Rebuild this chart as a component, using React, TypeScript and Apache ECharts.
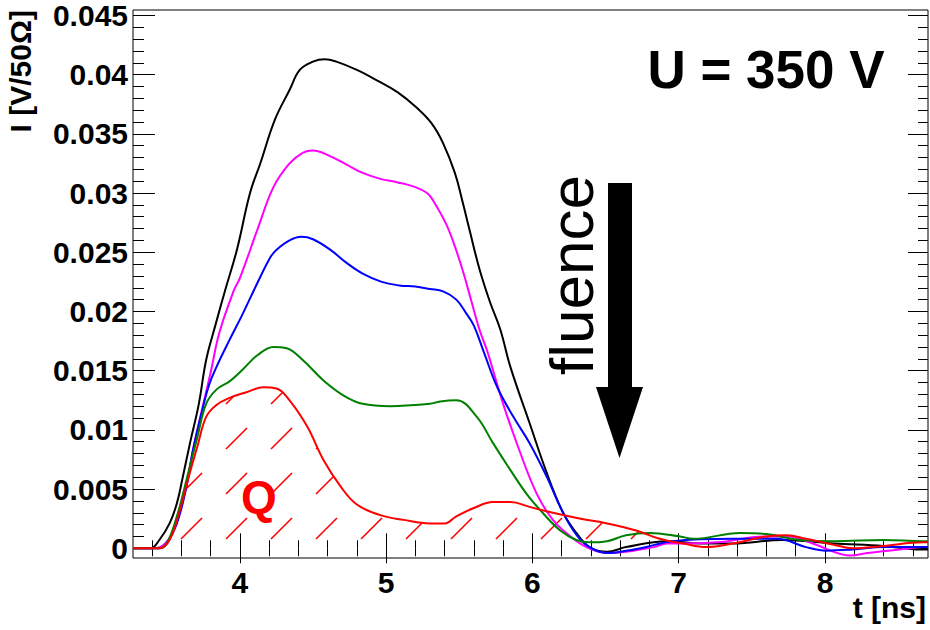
import React, { useEffect, useRef } from "react";
import * as echarts from "echarts";

// ---- data ----
const tBlack = [3.27, 3.39, 3.45, 3.52, 3.57, 3.61, 3.66, 3.72, 3.77, 3.83, 3.9, 3.98, 4.07, 4.14, 4.24, 4.34, 4.41, 4.5, 4.58, 4.66, 4.8, 4.94, 5.08, 5.21, 5.31, 5.39, 5.47, 5.52, 5.57, 5.64, 5.71, 5.78, 5.85, 5.98, 6.1, 6.21, 6.3, 6.39, 6.51, 6.64, 6.92, 7.15, 7.37, 7.71, 8.06, 8.4, 8.65, 8.704];
const iBlack = [0, 0, 0.0007, 0.0021, 0.0038, 0.006, 0.0089, 0.0122, 0.0159, 0.0187, 0.0218, 0.0252, 0.03, 0.0325, 0.0362, 0.0387, 0.0404, 0.0411, 0.0413, 0.0411, 0.0404, 0.0395, 0.0385, 0.0372, 0.0359, 0.0342, 0.0317, 0.0294, 0.0269, 0.0235, 0.0208, 0.0185, 0.0153, 0.0106, 0.0063, 0.003, 0.0013, 0.0001, -0.0003, 0.0001, 0.0006, 0.0004, 0.0004, 0.0007, 0.0004, 0.0002, -0.0001, -0.0001];

const tMagenta = [3.27, 3.41, 3.48, 3.55, 3.59, 3.64, 3.68, 3.73, 3.8, 3.86, 3.96, 4.0, 4.12, 4.23, 4.34, 4.43, 4.5, 4.62, 4.73, 4.84, 4.96, 5.08, 5.2, 5.28, 5.32, 5.41, 5.47, 5.53, 5.58, 5.64, 5.69, 5.8, 5.91, 6.03, 6.14, 6.26, 6.37, 6.51, 6.64, 6.83, 6.92, 7.01, 7.26, 7.6, 7.74, 7.94, 8.06, 8.17, 8.29, 8.51, 8.68, 8.704];
const iMagenta = [0, 0, 0.0003, 0.0015, 0.0032, 0.0055, 0.0083, 0.0111, 0.0148, 0.0182, 0.0218, 0.0228, 0.0269, 0.0305, 0.0325, 0.0334, 0.0336, 0.0331, 0.0324, 0.0317, 0.0312, 0.0309, 0.0305, 0.03, 0.0294, 0.0274, 0.0255, 0.0232, 0.021, 0.0184, 0.0167, 0.0122, 0.0083, 0.0046, 0.0024, 0.001, 0.0001, -0.0004, -0.0003, 0.0001, 0.0004, 0.0004, 0.0005, 0.001, 0.001, 0.0003, -0.0003, -0.0006, -0.0004, -0.0001, 0.0001, 0.0001];

const tBlue = [3.27, 3.45, 3.5, 3.57, 3.63, 3.68, 3.75, 3.79, 3.84, 3.93, 4.02, 4.12, 4.21, 4.25, 4.34, 4.42, 4.5, 4.62, 4.73, 4.84, 4.97, 5.09, 5.2, 5.3, 5.39, 5.48, 5.55, 5.6, 5.67, 5.76, 5.87, 5.98, 6.1, 6.21, 6.33, 6.46, 6.53, 6.6, 6.74, 6.96, 7.37, 7.67, 7.87, 8.01, 8.19, 8.4, 8.67, 8.704];
const iBlue = [0, 0, 0.0004, 0.0021, 0.0049, 0.0083, 0.012, 0.0138, 0.0153, 0.0176, 0.0198, 0.0224, 0.0246, 0.0252, 0.026, 0.0263, 0.0261, 0.0252, 0.0241, 0.0232, 0.0225, 0.0222, 0.0221, 0.0219, 0.0217, 0.021, 0.0198, 0.0188, 0.0165, 0.0136, 0.0111, 0.0089, 0.006, 0.003, 0.0007, -0.0003, -0.0004, -0.0003, 0, 0.0006, 0.0008, 0.0008, 0.0001, -0.0002, -0.0001, 0.0001, 0.0001, 0.0001];

const tGreen = [3.27, 3.45, 3.5, 3.57, 3.64, 3.71, 3.77, 3.84, 3.93, 4.02, 4.12, 4.23, 4.32, 4.43, 4.57, 4.71, 4.84, 5.03, 5.19, 5.3, 5.37, 5.48, 5.62, 5.73, 5.85, 5.96, 6.07, 6.19, 6.3, 6.39, 6.51, 6.64, 6.8, 7.01, 7.1, 7.42, 7.6, 7.83, 8.06, 8.4, 8.67, 8.704];
const iGreen = [0, 0, 0.0004, 0.0027, 0.006, 0.0094, 0.0122, 0.0134, 0.0141, 0.0151, 0.0163, 0.017, 0.0169, 0.0159, 0.0142, 0.0129, 0.0122, 0.012, 0.0121, 0.0122, 0.0124, 0.0125, 0.0111, 0.0089, 0.0066, 0.0046, 0.003, 0.0015, 0.0007, 0.0005, 0.0006, 0.0011, 0.0013, 0.001, 0.0008, 0.0013, 0.0012, 0.0007, 0.0006, 0.0007, 0.0006, 0.0006];

const tRed = [3.27, 3.45, 3.52, 3.59, 3.65, 3.71, 3.77, 3.84, 3.93, 4.05, 4.16, 4.25, 4.34, 4.46, 4.57, 4.69, 4.8, 4.96, 5.12, 5.3, 5.4, 5.48, 5.6, 5.73, 5.85, 5.98, 6.14, 6.33, 6.51, 6.71, 6.87, 7.03, 7.19, 7.37, 7.6, 7.74, 7.87, 8.06, 8.19, 8.4, 8.67, 8.704];
const iRed = [0, 0, 0.0007, 0.0032, 0.006, 0.0086, 0.0111, 0.0121, 0.0127, 0.0132, 0.0136, 0.0135, 0.0125, 0.0103, 0.0075, 0.0052, 0.0037, 0.0028, 0.0024, 0.0021, 0.0021, 0.0027, 0.0034, 0.0039, 0.0039, 0.0035, 0.003, 0.0025, 0.0021, 0.0015, 0.0008, 0.0004, 0.0001, 0.0004, 0.001, 0.0011, 0.0008, 0.0003, 0, 0.0002, 0.0005, 0.0005];

const xMajorTicks = [4, 5, 6, 7, 8];
const yMajorTicks = [0, 0.005, 0.01, 0.015, 0.02, 0.025, 0.03, 0.035, 0.04, 0.045];

const X_MIN = 3.27;
const X_MAX = 8.704;
const Y_MIN = -0.00082;
const Y_MAX = 0.04546;

function pairs(t: number[], v: number[]) {
  return t.map((x, i) => [x, v[i]]);
}

function minorList(from: number, to: number, step: number) {
  const out: number[] = [];
  const n = Math.round((to - from) / step);
  for (let k = 0; k <= n; k++) out.push(Math.round((from + k * step) * 10000) / 10000);
  return out;
}

function makeHatch() {
  const c = document.createElement("canvas");
  c.width = 45;
  c.height = 45;
  const ctx = c.getContext("2d")!;
  ctx.strokeStyle = "#ff0000";
  ctx.lineWidth = 1.6;
  ctx.beginPath();
  ctx.moveTo(1, 44);
  ctx.lineTo(22, 23);
  ctx.stroke();
  return c;
}

const FONT = "Liberation Sans";

export default function App() {
  const ref = useRef<HTMLDivElement>(null);

  useEffect(() => {
    if (!ref.current) return;
    const chart = echarts.init(ref.current, undefined, { renderer: "svg" });

    const xMinor = minorList(3.4, 8.6, 0.2);
    const yMinor = minorList(0, 0.045, 0.001);

    const baseX = {
      type: "value" as const,
      min: X_MIN,
      max: X_MAX,
      axisLine: { show: false },
      splitLine: { show: false },
    };
    const baseY = {
      type: "value" as const,
      min: Y_MIN,
      max: Y_MAX,
      axisLine: { show: false },
      splitLine: { show: false },
    };
    const tickStyle = { color: "#000", width: 1 };

    const line = (name: string, color: string, t: number[], v: number[], extra: any = {}) => ({
      name,
      type: "line",
      data: pairs(t, v),
      xAxisIndex: 0,
      yAxisIndex: 0,
      showSymbol: false,
      smooth: 0.4,
      lineStyle: { color, width: 2 },
      itemStyle: { color },
      ...extra,
    });

    chart.setOption({
      animation: false,
      backgroundColor: "#fff",
      grid: {
        left: 133,
        top: 10,
        width: 795,
        height: 548,
        show: true,
        borderColor: "#000",
        borderWidth: 1,
        backgroundColor: "transparent",
      },
      xAxis: [
        {
          ...baseX,
          position: "bottom",
          axisTick: { inside: true, length: 15, lineStyle: tickStyle, customValues: xMajorTicks },
          axisLabel: {
            customValues: xMajorTicks,
            margin: 9,
            color: "#000",
            fontFamily: FONT,
            fontWeight: "bold",
            fontSize: 30,
            formatter: (v: number) => String(v),
          },
        },
        {
          ...baseX,
          position: "bottom",
          axisTick: { inside: true, length: 8, lineStyle: tickStyle, customValues: xMinor },
          axisLabel: { show: false },
        },
        {
          ...baseX,
          position: "top",
          axisTick: { inside: true, length: 15, lineStyle: tickStyle, customValues: xMajorTicks },
          axisLabel: { show: false },
        },
        {
          ...baseX,
          position: "top",
          axisTick: { inside: true, length: 8, lineStyle: tickStyle, customValues: xMinor },
          axisLabel: { show: false },
        },
      ],
      yAxis: [
        {
          ...baseY,
          position: "left",
          axisTick: { inside: true, length: 22, lineStyle: tickStyle, customValues: yMajorTicks },
          axisLabel: {
            customValues: yMajorTicks,
            margin: 5,
            color: "#000",
            fontFamily: FONT,
            fontWeight: "bold",
            fontSize: 30,
            formatter: (v: number) => (v === 0 ? "0" : String(parseFloat(v.toFixed(4)))),
          },
        },
        {
          ...baseY,
          position: "left",
          axisTick: { inside: true, length: 11, lineStyle: tickStyle, customValues: yMinor },
          axisLabel: { show: false },
        },
        {
          ...baseY,
          position: "right",
          axisTick: { inside: true, length: 20, lineStyle: tickStyle, customValues: yMajorTicks },
          axisLabel: { show: false },
        },
        {
          ...baseY,
          position: "right",
          axisTick: { inside: true, length: 10, lineStyle: tickStyle, customValues: yMinor },
          axisLabel: { show: false },
        },
      ],
      series: [
        line("black", "#000000", tBlack, iBlack),
        line("magenta", "#ff00ff", tMagenta, iMagenta),
        line("blue", "#0000ff", tBlue, iBlue),
        line("green", "#008000", tGreen, iGreen),
        line("red", "#ff0000", tRed, iRed, {
          areaStyle: {
            color: {
              image: makeHatch(),
              repeat: "repeat",
              imageWidth: 45,
              imageHeight: 45,
              x: 9,
              y: 6,
            },
            opacity: 1,
          },
        }),
      ],
      graphic: [
        {
          type: "text",
          x: 20,
          y: 10,
          rotation: Math.PI / 2,
          style: {
            text: "I [V/50Ω]",
            fontFamily: FONT,
            fontWeight: "bold",
            fontSize: 30,
            fill: "#000",
            align: "right",
            verticalAlign: "middle",
          },
        },
        {
          type: "text",
          x: 926,
          y: 607,
          style: {
            text: "t [ns]",
            fontFamily: FONT,
            fontWeight: "bold",
            fontSize: 30,
            fill: "#000",
            align: "right",
            verticalAlign: "middle",
          },
        },
        {
          type: "text",
          x: 766,
          y: 69,
          style: {
            text: "U = 350 V",
            fontFamily: FONT,
            fontWeight: "bold",
            fontSize: 53,
            fill: "#000",
            align: "center",
            verticalAlign: "middle",
          },
        },
        {
          type: "text",
          x: 259,
          y: 497,
          style: {
            text: "Q",
            fontFamily: FONT,
            fontWeight: "bold",
            fontSize: 46,
            fill: "#ff0000",
            align: "center",
            verticalAlign: "middle",
          },
        },
        {
          type: "text",
          x: 571,
          y: 275,
          rotation: Math.PI / 2,
          style: {
            text: "fluence",
            fontFamily: FONT,
            fontSize: 62,
            fill: "#000",
            align: "center",
            verticalAlign: "middle",
          },
        },
        {
          type: "rect",
          shape: { x: 608, y: 183, width: 24, height: 205 },
          style: { fill: "#000" },
        },
        {
          type: "polygon",
          shape: { points: [[596, 387], [643, 387], [619.5, 458]] },
          style: { fill: "#000" },
        },
      ],
    });

    return () => chart.dispose();
  }, []);

  return (
    <div
      ref={ref}
      style={{ position: "fixed", left: 0, top: 0, width: 930, height: 630, background: "#fff" }}
    />
  );
}
